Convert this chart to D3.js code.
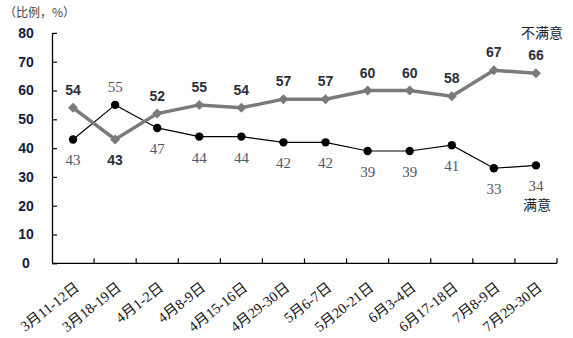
<!DOCTYPE html>
<html><head><meta charset="utf-8">
<script src="https://cdn.jsdelivr.net/npm/d3@7"></script>
<style>body{margin:0;background:#fff}svg{display:block}</style>
</head><body>
<script>
const categories = ["3月11-12日","3月18-19日","4月1-2日","4月8-9日","4月15-16日","4月29-30日","5月6-7日","5月20-21日","6月3-4日","6月17-18日","7月8-9日","7月29-30日"];
const dissatisfied = [54,43,52,55,54,57,57,60,60,58,67,66];
const satisfied = [43,55,47,44,44,42,42,39,39,41,33,34];
const yTicks = [0,10,20,30,40,50,60,70,80];

const W=573,H=338;
const svg=d3.select("body").append("svg").attr("width",W).attr("height",H);
const x=d3.scaleBand().domain(categories).range([52,557]).paddingInner(0).paddingOuter(0);
const y=d3.scaleLinear().domain([0,80]).range([263.3,32.9]);
const cx=c=>x(c)+x.bandwidth()/2;

// axes
const ya=svg.append("g").attr("transform","translate(52,0)")
  .call(d3.axisLeft(y).tickValues(yTicks).tickSize(-5).tickPadding(26).tickSizeOuter(0));
ya.select(".domain").attr("stroke","#000").attr("stroke-width",1.3);
ya.selectAll(".tick line").attr("stroke","#000").attr("stroke-width",1.2);
ya.selectAll(".tick text").attr("font-family","Liberation Sans, Arial, sans-serif").attr("font-weight","bold").attr("font-size",14).attr("fill","#141a3a").attr("text-anchor","middle").attr("dx",0);

const xa=svg.append("g").attr("transform","translate(0,263.3)");
xa.append("line").attr("x1",52).attr("x2",557).attr("stroke","#000").attr("stroke-width",1.3);
const bounds=categories.map(c=>x(c)+x.bandwidth());
xa.selectAll("line.tk").data(bounds).join("line").attr("class","tk")
  .attr("x1",d=>d).attr("x2",d=>d).attr("y1",0).attr("y2",-5).attr("stroke","#000").attr("stroke-width",1.2);
xa.selectAll("text.cl").data(categories).join("text").attr("class","cl")
  .attr("transform",c=>`translate(${cx(c)+4},${22}) rotate(-38)`)
  .attr("text-anchor","end").attr("dy","0.35em")
  .attr("font-family","Liberation Serif, Noto Sans CJK SC, serif").attr("font-size",14.5).attr("fill","#111")
  .text(c=>c);

// title
svg.append("text").attr("x",4).attr("y",17).attr("font-family","Noto Sans CJK SC, sans-serif").attr("font-size",12).attr("fill","#444").text("（比例，%）");

// lines
const line=d3.line().x((d,i)=>cx(categories[i])).y(d=>y(d));
svg.append("path").datum(satisfied).attr("d",line).attr("fill","none").attr("stroke","#000").attr("stroke-width",1.2);
svg.append("path").datum(dissatisfied).attr("d",line).attr("fill","none").attr("stroke","#7a7a7a").attr("stroke-width",3.5);
svg.selectAll("path.dm").data(dissatisfied).join("path").attr("class","dm")
  .attr("d","M0,-5L5,0L0,5L-5,0Z")
  .attr("transform",(d,i)=>`translate(${cx(categories[i])},${y(d)})`).attr("fill","#7a7a7a");
svg.selectAll("circle.sc").data(satisfied).join("circle").attr("class","sc")
  .attr("cx",(d,i)=>cx(categories[i])).attr("cy",d=>y(d)).attr("r",4.2).attr("fill","#000");

// labels
svg.selectAll("text.dl").data(dissatisfied).join("text").attr("class","dl")
  .attr("x",(d,i)=>cx(categories[i])).attr("y",(d,i)=>d>=satisfied[i]?y(d)-13:y(d)+26)
  .attr("text-anchor","middle").attr("font-family","Liberation Sans, Arial, sans-serif").attr("font-weight","bold").attr("font-size",14).attr("fill","#2e2e3a")
  .text(d=>d);
svg.selectAll("text.sl").data(satisfied).join("text").attr("class","sl")
  .attr("x",(d,i)=>cx(categories[i])).attr("y",(d,i)=>d>dissatisfied[i]?y(d)-13:y(d)+26)
  .attr("text-anchor","middle").attr("font-family","Liberation Serif, serif").attr("font-size",15).attr("fill","#53576a")
  .text(d=>d);

svg.append("text").attr("x",542).attr("y",38).attr("text-anchor","middle").attr("font-family","Noto Sans CJK SC, sans-serif").attr("font-size",14).attr("fill","#222").text("不满意");
svg.append("text").attr("x",537).attr("y",210).attr("text-anchor","middle").attr("font-family","Noto Sans CJK SC, sans-serif").attr("font-size",14).attr("fill","#222").text("满意");
</script>
</body></html>
